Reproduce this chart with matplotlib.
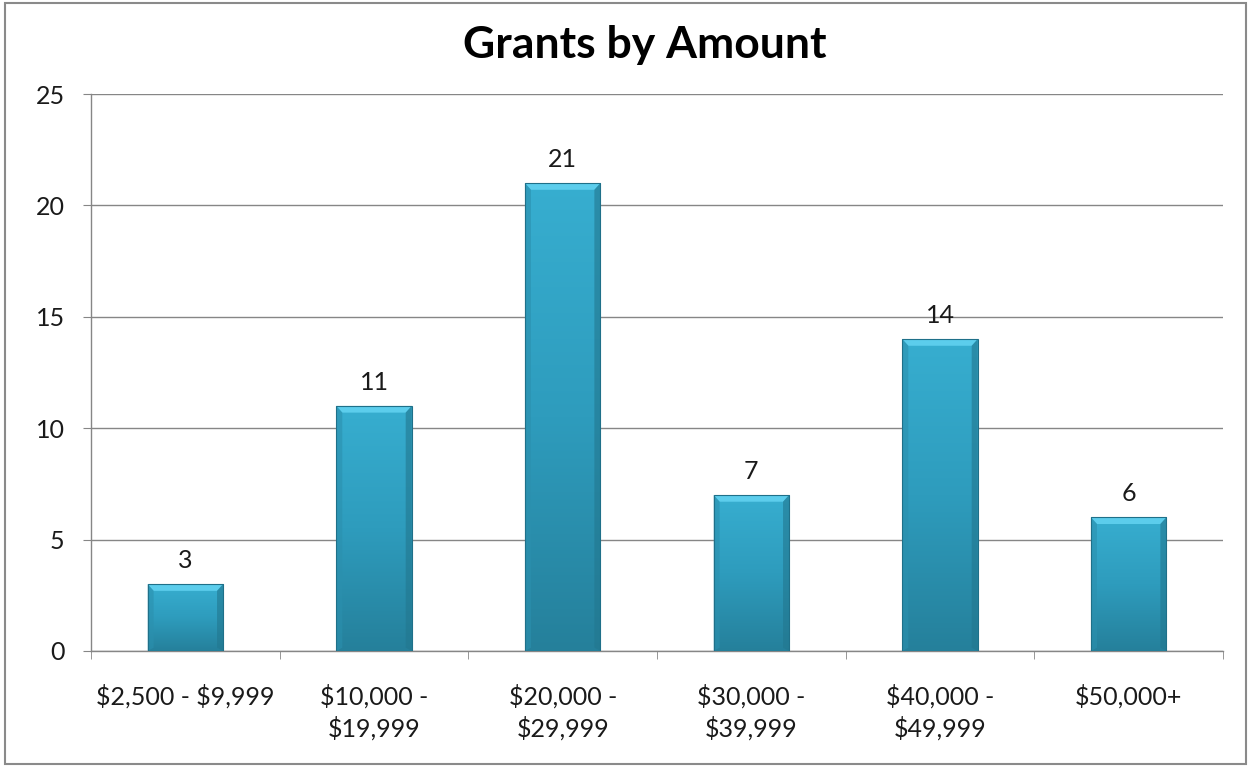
import matplotlib
matplotlib.use("Agg")
import matplotlib.pyplot as plt
import numpy as np
from matplotlib.patches import Rectangle, Polygon
from matplotlib.colors import LinearSegmentedColormap

categories = ["$2,500 - $9,999", "$10,000 -\n$19,999", "$20,000 -\n$29,999",
              "$30,000 -\n$39,999", "$40,000 -\n$49,999", "$50,000+"]
values = [3, 11, 21, 7, 14, 6]
yticks = [0, 5, 10, 15, 20, 25]

plt.rcParams['font.family'] = ['Lato', 'DejaVu Sans']
plt.rcParams['text.parse_math'] = False

fig = plt.figure(figsize=(12.51, 7.67), dpi=100)
fig.patches.append(Rectangle((0.004, 0.004), 0.992, 0.992, transform=fig.transFigure,
                             fill=False, edgecolor='#8a8a8a', linewidth=1.5))
ax = fig.add_axes([91/1251, 1-651/767, (1223-91)/1251, (651-94)/767])

x = np.arange(len(categories))
bars = ax.bar(x, values, width=0.4, color='#2f9fc0', edgecolor='none', zorder=3)

cmap = LinearSegmentedColormap.from_list('b', ['#25809b', '#2e9cbd', '#37aed0'])
grad = np.linspace(0, 1, 256).reshape(-1, 1)
bev = 0.3
for b in bars:
    x0, w, h = b.get_x(), b.get_width(), b.get_height()
    im = ax.imshow(grad, extent=(x0, x0 + w, 0, h), origin='lower', aspect='auto',
                   cmap=cmap, zorder=3)
    im.set_clip_path(b)
    dx = w * 0.08
    # top bevel
    ax.add_patch(Polygon([(x0, h), (x0 + w, h), (x0 + w - dx, h - bev), (x0 + dx, h - bev)],
                         closed=True, facecolor='#5ccdec', edgecolor='none', zorder=4))
    # side bevels
    ax.add_patch(Polygon([(x0, 0), (x0, h), (x0 + dx, h - bev), (x0 + dx, 0.15)],
                         closed=True, facecolor='#2b90ae', edgecolor='none', alpha=0.6, zorder=4))
    ax.add_patch(Polygon([(x0 + w, 0), (x0 + w, h), (x0 + w - dx, h - bev), (x0 + w - dx, 0.15)],
                         closed=True, facecolor='#22778f', edgecolor='none', alpha=0.6, zorder=4))
    ax.add_patch(Rectangle((x0, 0), w, h, fill=False, edgecolor='#1f7089', linewidth=0.8, zorder=5))
    ax.text(x0 + w / 2, h + 0.55, str(int(h)), ha='center', va='bottom', fontsize=18,
            color='#1a1a1a', zorder=6)

ax.set_xlim(-0.5, len(categories) - 0.5)
ax.set_ylim(0, 25)
ax.set_yticks(yticks)
ax.set_xticks(x)
ax.set_xticklabels(categories, fontsize=18, color='#1a1a1a', linespacing=1.38)
ax.set_xticks(np.arange(-0.5, len(categories)), minor=True)
ax.tick_params(axis='x', which='major', length=0, pad=24)
ax.tick_params(axis='x', which='minor', length=6, color='#868686', direction='out')
ax.tick_params(axis='y', length=6, color='#868686', direction='out', labelsize=18,
               labelcolor='#1a1a1a', pad=13)
ax.yaxis.grid(True, color='#868686', linewidth=1.0, zorder=0)
ax.set_axisbelow(True)
for s in ['top', 'right']:
    ax.spines[s].set_visible(False)
for s in ['left', 'bottom']:
    ax.spines[s].set_color('#868686')
    ax.spines[s].set_linewidth(1.0)

fig.text(0.515, 1 - 45/767, "Grants by Amount", ha='center', va='center',
         fontsize=32, fontweight='bold', color='#000000')

fig.savefig("out.png", dpi=100)
